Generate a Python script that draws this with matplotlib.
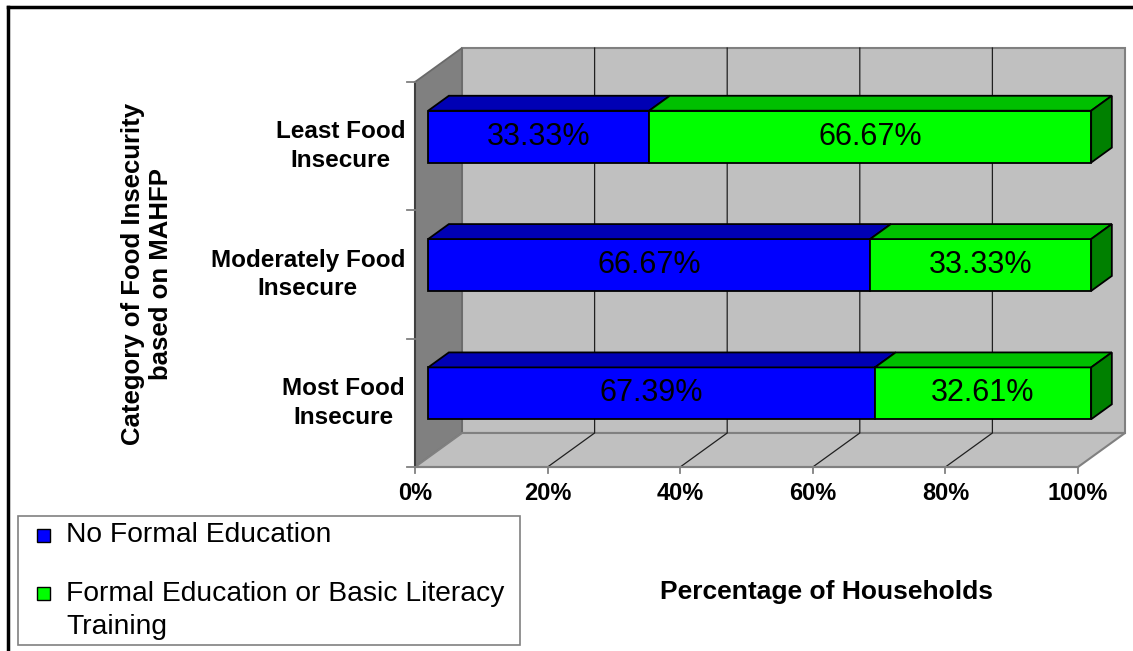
import matplotlib.pyplot as plt
from matplotlib.patches import Polygon, Rectangle
from matplotlib.lines import Line2D

# data, bottom to top on the chart
categories = ['Most Food\nInsecure', 'Moderately Food\nInsecure', 'Least Food\nInsecure']
no_formal = [67.39, 66.67, 33.33]
formal = [32.61, 33.33, 66.67]
series_names = ['No Formal Education', 'Formal Education or Basic Literacy\nTraining']
x_ticks = [0, 20, 40, 60, 80, 100]

plt.rcParams['font.family'] = ['Liberation Sans', 'DejaVu Sans']

W, H = 1133, 651
fig = plt.figure(figsize=(W / 100, H / 100), dpi=100)

# front plane: 0..100 % -> px 415..1078, categories 0..3 -> px 467..82
sx = (1078 - 415) / 100.0
sy = (467 - 82) / 3.0
left_px, right_px, top_px, bot_px = 380, 1133, 30, 480
ax = fig.add_axes([left_px / W, 1 - bot_px / H, (right_px - left_px) / W, (bot_px - top_px) / H])
ax.set_xlim((left_px - 415) / sx, (right_px - 415) / sx)
ax.set_ylim((467 - bot_px) / sy, (467 - top_px) / sy)
ax.axis('off')

# pseudo 3d: depth shift in data units
DX, DY = 47 / sx, 34 / sy
D0, D1 = 0.28, 0.72
HALF = 0.202
n = len(categories)

blue, blue_top = '#0000ff', '#0000b4'
green, green_top, green_end = '#00ff00', '#00c000', '#008000'


def proj(v, y, d):
    return (v + d * DX, y + d * DY)


def face(pts, fc, ec='black', lw=1.3, z=3):
    ax.add_patch(Polygon([proj(*p) for p in pts], closed=True, fc=fc, ec=ec,
                         lw=lw, zorder=z, joinstyle='miter'))


# walls and floor
face([(0, 0, 1), (100, 0, 1), (100, n, 1), (0, n, 1)], '#c0c0c0', ec='#808080', lw=1.5, z=1)
face([(0, 0, 0), (0, 0, 1), (0, n, 1), (0, n, 0)], '#808080', ec='#6a6a6a', lw=1.3, z=1)
face([(0, 0, 0), (100, 0, 0), (100, 0, 1), (0, 0, 1)], '#c0c0c0', ec='#808080', lw=1.5, z=1)

# gridlines on floor and back wall
for t in x_ticks[1:-1]:
    pts = [proj(t, 0, 0), proj(t, 0, 1), proj(t, n, 1)]
    ax.plot([p[0] for p in pts], [p[1] for p in pts], color='#202020', lw=0.9, zorder=2)

# axis lines and ticks
ax.plot([0, 0], [0, n], color='#404040', lw=1.5, zorder=2)
ax.plot([0, 100], [0, 0], color='#808080', lw=1.5, zorder=2)
for k in range(n + 1):
    ax.plot([-8 / sx, 0], [k, k], color='#808080', lw=1.3, zorder=2)
for t in x_ticks:
    ax.plot([t, t], [0, -6 / sy], color='#808080', lw=1.3, zorder=2)
    ax.text(t, -27 / sy, f'{t}%', ha='center', va='center', fontsize=17, fontweight='bold')

# bars
for i, (a, b) in enumerate(zip(no_formal, formal)):
    yc = i + 0.5
    segs = [(0, a, blue, blue_top), (a, a + b, green, green_top)]
    for j, (v0, v1, fc, tc) in enumerate(segs):
        face([(v0, yc - HALF, D0), (v1, yc - HALF, D0), (v1, yc + HALF, D0), (v0, yc + HALF, D0)], fc)
        face([(v0, yc + HALF, D0), (v1, yc + HALF, D0), (v1, yc + HALF, D1), (v0, yc + HALF, D1)], tc)
        if j == len(segs) - 1:
            face([(v1, yc - HALF, D0), (v1, yc - HALF, D1), (v1, yc + HALF, D1), (v1, yc + HALF, D0)], green_end)
        val = v1 - v0
        cx, cy = proj((v0 + v1) / 2, yc, D0)
        ax.text(cx, cy, f'{val:.2f}%', ha='center', va='center', fontsize=22, zorder=5)
    ax.text(-10 / sx, yc, categories[i], ha='right', va='center', multialignment='center',
            fontsize=17.5, fontweight='bold', linespacing=1.3)

# axis titles
fig.text(147 / W, 1 - 274 / H, 'Category of Food Insecurity\nbased on MAHFP', rotation=90,
         ha='center', va='center', fontsize=18.5, fontweight='bold', linespacing=1.25)
fig.text(826 / W, 1 - 592 / H, 'Percentage of Households', ha='center', va='center',
         fontsize=19, fontweight='bold')

# legend
fig.add_artist(Rectangle((18 / W, 1 - 645 / H), 502 / W, 129 / H, transform=fig.transFigure,
                         fill=False, ec='#808080', lw=1.2))
fig.add_artist(Rectangle((37 / W, 1 - 542 / H), 13 / W, 13 / H, transform=fig.transFigure,
                         fc=blue, ec='black', lw=1))
fig.text(66 / W, 1 - 535 / H, series_names[0], ha='left', va='center', fontsize=20.3)
fig.add_artist(Rectangle((37 / W, 1 - 600 / H), 13 / W, 13 / H, transform=fig.transFigure,
                         fc=green, ec='black', lw=1))
fig.text(66 / W, 1 - 581 / H, series_names[1], ha='left', va='top', fontsize=20.3,
         linespacing=1.35)

# outer frame
fig.add_artist(Line2D([8 / W, 8 / W], [0, 1 - 7 / H], transform=fig.transFigure, color='black', lw=2.5))
fig.add_artist(Line2D([8 / W, 1], [1 - 7 / H, 1 - 7 / H], transform=fig.transFigure, color='black', lw=2.5))

fig.savefig('out.png', dpi=100)
